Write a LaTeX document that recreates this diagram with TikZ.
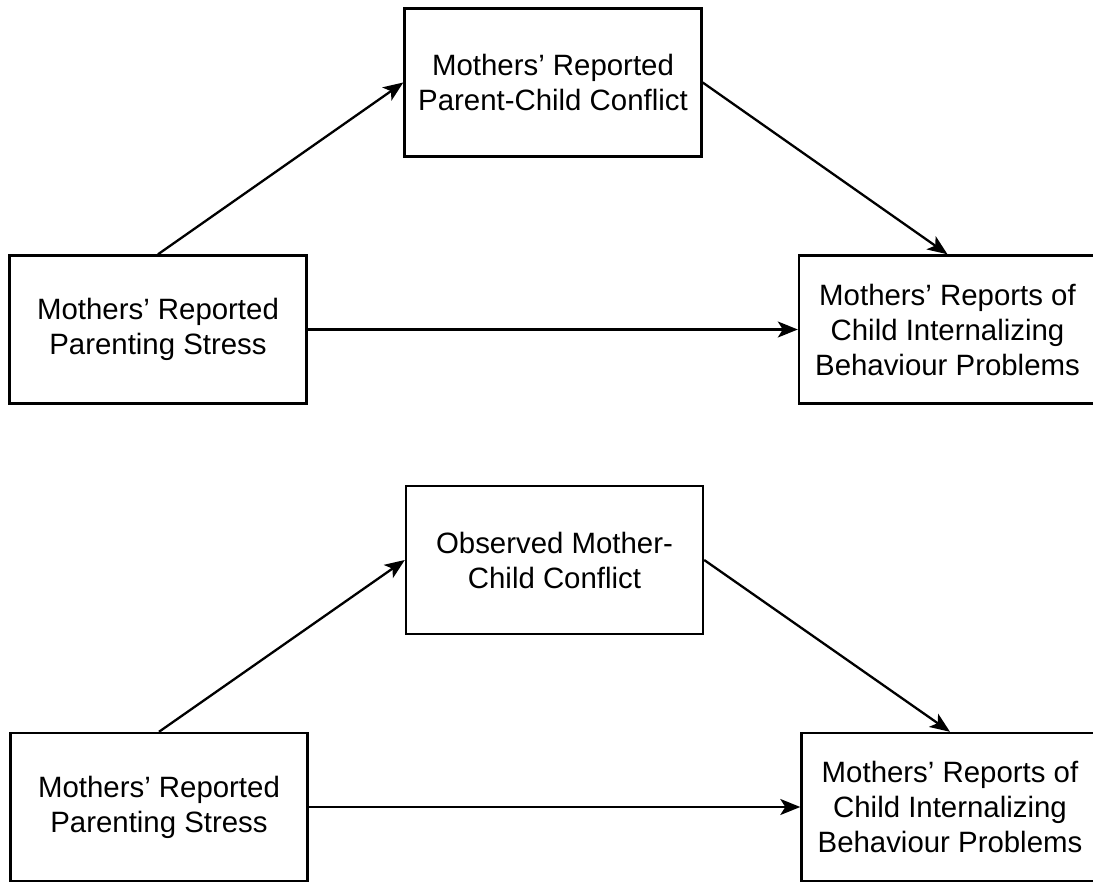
\documentclass[tikz,border=0pt]{standalone}
\usepackage{fontspec}
\setmainfont{Liberation Sans}
\usetikzlibrary{arrows.meta}
\begin{document}
\begin{tikzpicture}[x=1pt,y=-1pt,
  varbox/.style={draw, line width=2.4pt, minimum width=297pt, minimum height=148pt,
    align=center, inner sep=0pt, font=\fontsize{29.4}{35}\selectfont},
  path/.style={line width=2.3pt, -{Stealth[length=20pt,width=16pt,inset=5pt]}}]
  \useasboundingbox (0,0) rectangle (1093,882);
  \clip (0,0) rectangle (1093,882);
  % top model: self-reported conflict as mediator
  \node[varbox] (med1) at (553,82.5) {Mothers’ Reported\\Parent-Child Conflict};
  \node[varbox] (x1)   at (158,329.5) {Mothers’ Reported\\Parenting Stress};
  \node[varbox] (y1)   at (947.5,329.5) {Mothers’ Reports of\\Child Internalizing\\Behaviour Problems};
  \draw[path] (x1.north) -- (med1.west);
  \draw[path] (med1.east) -- (y1.north);
  \draw[path] (x1.east) -- (y1.west);
  % bottom model: observed conflict as mediator
  \node[varbox] (med2) at (554.5,560) {Observed Mother-\\Child Conflict};
  \node[varbox] (x2)   at (159,807) {Mothers’ Reported\\Parenting Stress};
  \node[varbox] (y2)   at (950,807) {Mothers’ Reports of\\Child Internalizing\\Behaviour Problems};
  \draw[path] (x2.north) -- (med2.west);
  \draw[path] (med2.east) -- (y2.north);
  \draw[path] (x2.east) -- (y2.west);
\end{tikzpicture}
\end{document}
